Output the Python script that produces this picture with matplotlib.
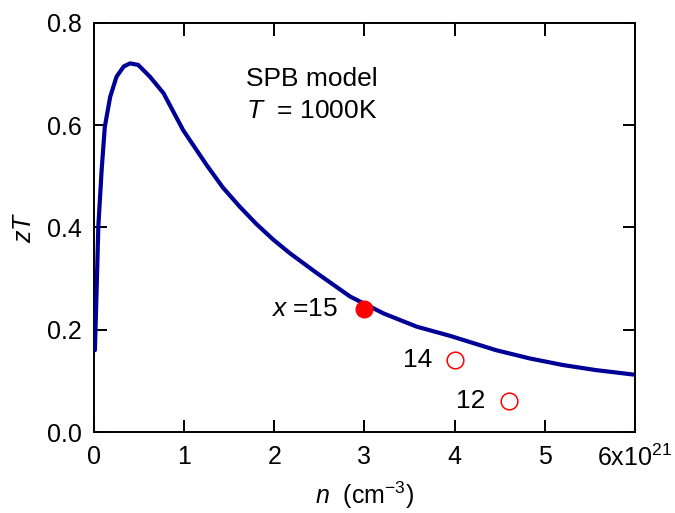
import matplotlib
matplotlib.use("Agg")
import matplotlib.pyplot as plt

plt.rcParams['font.family'] = ['Liberation Sans', 'DejaVu Sans']
plt.rcParams['mathtext.fontset'] = 'custom'
plt.rcParams['mathtext.rm'] = 'Liberation Sans'
plt.rcParams['mathtext.it'] = 'Liberation Sans:italic'

# SPB model curve, n in 1e21 cm^-3
n_model = [0.01, 0.03, 0.048, 0.085, 0.12, 0.18, 0.25, 0.33, 0.40, 0.49, 0.62, 0.77,
           0.99, 1.25, 1.43, 1.62, 1.80, 1.99, 2.17, 2.47, 2.84, 3.21, 3.58, 3.95,
           4.46, 4.83, 5.20, 5.57, 6.0]
zt_model = [0.16, 0.284, 0.402, 0.513, 0.597, 0.656, 0.695, 0.715, 0.721, 0.718, 0.695,
            0.663, 0.59, 0.522, 0.478, 0.44, 0.407, 0.376, 0.35, 0.311, 0.265, 0.232,
            0.206, 0.188, 0.160, 0.144, 0.131, 0.121, 0.112]

# measured samples
n_meas = [3.0, 4.0, 4.6]
zt_meas = [0.24, 0.141, 0.061]
x_labels = [r'$\mathit{x}$ =15', '14', '12']

xticks = [0, 1, 2, 3, 4, 5, 6]
xticklabels = ['0', '1', '2', '3', '4', '5', r'6x10$^{21}$']
yticks = [0.0, 0.2, 0.4, 0.6, 0.8]

fig = plt.figure(figsize=(6.75, 5.13), dpi=100)
ax = fig.add_axes([94/675, 81/513, 541/675, 409/513])

ax.plot(n_model, zt_model, color='#000096', lw=3, solid_joinstyle='round',
        solid_capstyle='round', zorder=3)
ax.plot(n_meas[0], zt_meas[0], 'o', color='red', ms=12, zorder=4)
ax.plot(n_meas[1:], zt_meas[1:], 'o', mfc='none', mec='red', ms=12, mew=1.1, zorder=4)

offs = [-0.29, -0.25, -0.26]
for xv, yv, lab, o in zip(n_meas, zt_meas, x_labels, offs):
    ax.text(xv + o, yv, lab, ha='right', va='center', fontsize=19)

ax.text(1.69, 0.676, 'SPB model', fontsize=19, va='baseline')
ax.text(1.69, 0.614, r'$\mathit{T}$  = 1000K', fontsize=19, va='baseline')

ax.set_xlim(0, 6)
ax.set_ylim(0, 0.8)
ax.set_xticks(xticks)
ax.set_xticklabels(xticklabels)
ax.set_yticks(yticks)
ax.set_yticklabels(['0.0', '0.2', '0.4', '0.6', '0.8'])
ax.tick_params(direction='in', length=9, width=1.4, top=True, right=True,
               labelsize=18, pad=9)
for s in ax.spines.values():
    s.set_linewidth(1.4)

ax.set_xlabel(r'$\mathit{n}$  (cm$^{-3}$)', fontsize=18, labelpad=6)
ax.set_ylabel(r'$\mathit{zT}$', fontsize=18, labelpad=8)

fig.savefig('out.png', dpi=100)
